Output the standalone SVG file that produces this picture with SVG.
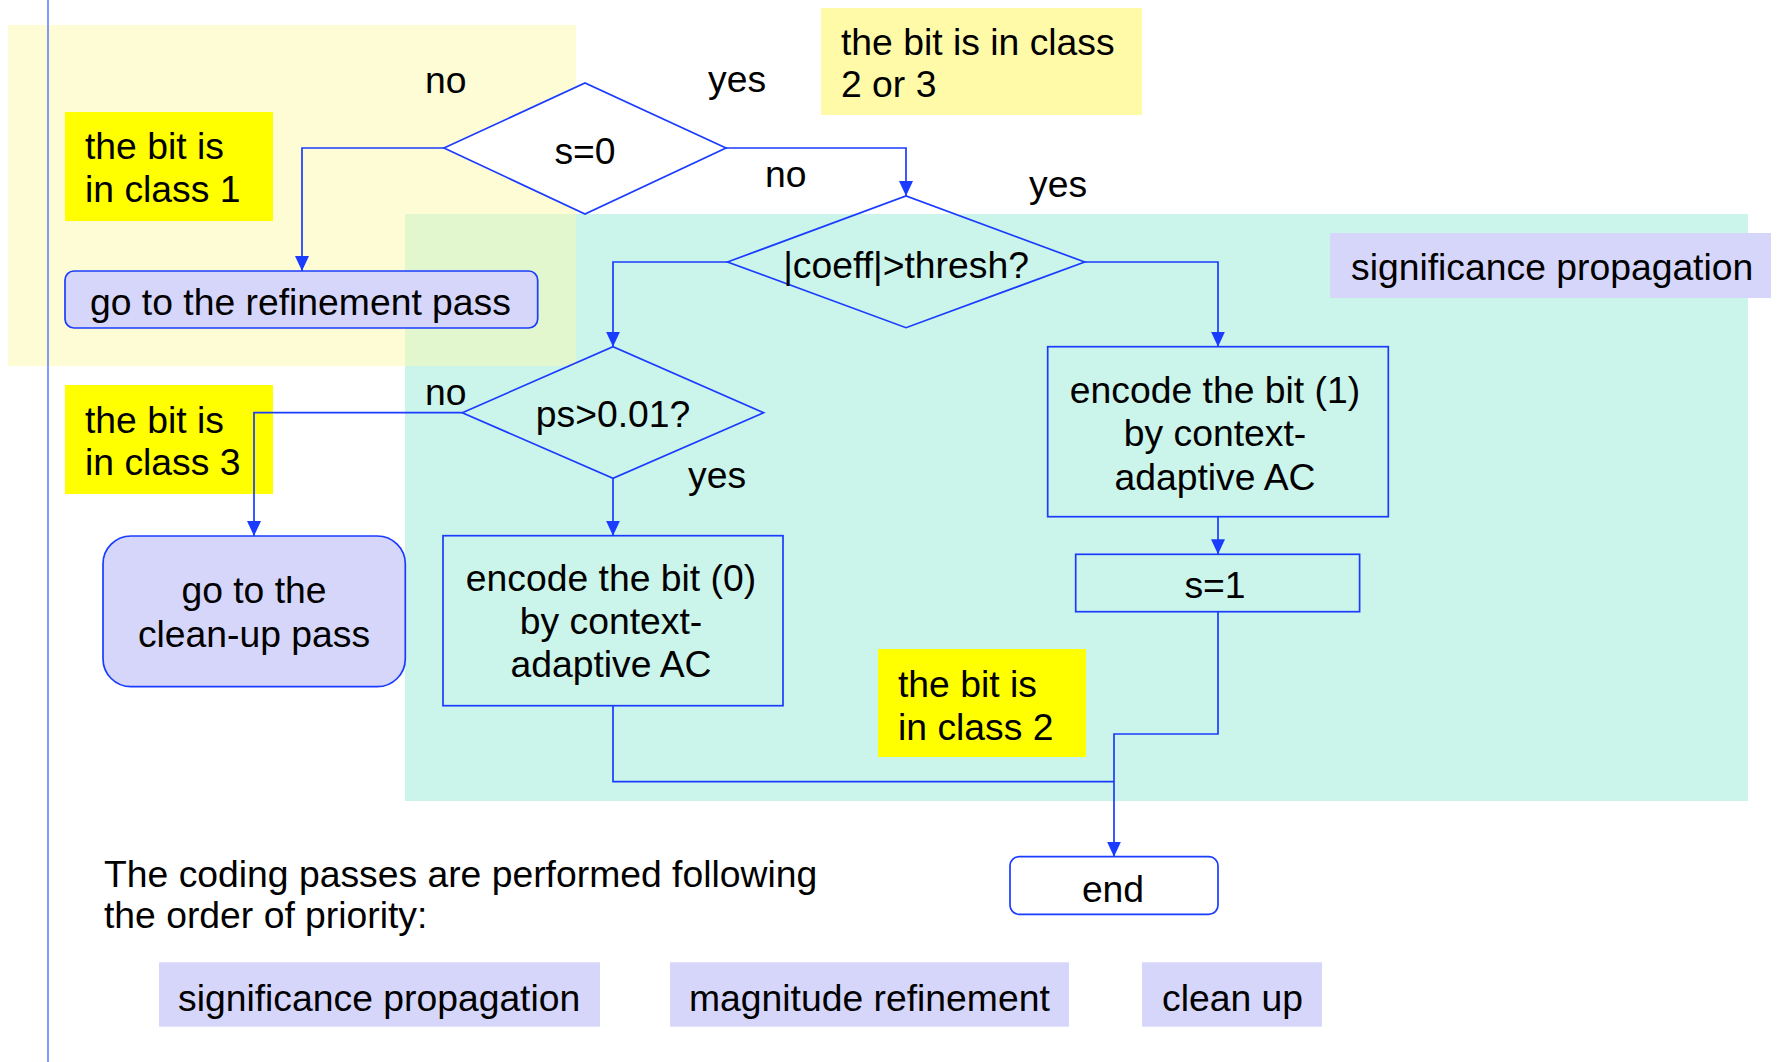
<svg xmlns="http://www.w3.org/2000/svg" width="1778" height="1062" viewBox="0 0 1778 1062">
<style>
text{font-family:"Liberation Sans",Arial,sans-serif;font-size:37.3px;fill:#000}
.c{text-anchor:middle}
.ln{fill:none;stroke:#1a3cff;stroke-width:1.7}
.nd{stroke:#1a3cff;stroke-width:1.7}
.lav{fill:#d6d6fa}
.yel{fill:#ffff00}
</style>
<defs>
<marker id="ah" markerUnits="userSpaceOnUse" markerWidth="16" markerHeight="16" refX="15" refY="7.5" orient="auto" viewBox="0 0 16 16">
<path d="M0,0.5 L15,7.5 L0,14.5 z" fill="#1a3cff"/>
</marker>
</defs>
<rect width="1778" height="1062" fill="#fff"/>
<g id="backgrounds">
<rect x="8" y="25" width="568" height="341" fill="#fefcd4"/>
<rect x="405" y="214" width="1343" height="587" fill="#cbf4ea"/>
<rect x="405" y="214" width="171" height="152" fill="#e3f7cf"/>
<line x1="48" y1="0" x2="48" y2="1062" stroke="#3355ff" stroke-width="1.2"/>
</g>
<g id="annotations">
<g id="note-class23"><rect x="821" y="8" width="321" height="107" fill="#fffaa8"/><text x="841" y="55">the bit is in class</text><text x="841" y="97">2 or 3</text></g>
<g id="note-class1"><rect class="yel" x="65" y="112" width="208" height="109"/><text x="85" y="159">the bit is</text><text x="85" y="202">in class 1</text></g>
<g id="note-class3"><rect class="yel" x="65" y="385" width="208" height="109"/><text x="85" y="433">the bit is</text><text x="85" y="475">in class 3</text></g>
<g id="note-class2"><rect class="yel" x="878" y="649" width="208" height="108"/><text x="898" y="697">the bit is</text><text x="898" y="740">in class 2</text></g>
<g id="label-sigprop"><rect class="lav" x="1330" y="233" width="441" height="65"/><text x="1351" y="280">significance propagation</text></g>
</g>
<g id="n-s0"><polygon class="nd" points="444,148 585,83 726,148 585,214" fill="#fff"/><text class="c" x="585" y="164">s=0</text></g>
<g id="n-coeff"><polygon class="nd" points="727.5,262 906,196 1084.7,262 906,327.7" fill="none"/><text class="c" x="906" y="278">|coeff|&gt;thresh?</text></g>
<g id="n-ps"><polygon class="nd" points="462.3,412.7 613,346.7 763.6,412.7 613,478.3" fill="none"/><text class="c" x="613" y="427">ps&gt;0.01?</text></g>
<g id="n-refine"><rect class="nd lav" x="65" y="271" width="472.7" height="57" rx="9"/><text x="90" y="315">go to the refinement pass</text></g>
<g id="n-cleanup"><rect class="nd lav" x="103" y="536" width="302.3" height="150.7" rx="28"/><text class="c" x="254" y="603">go to the</text><text class="c" x="254" y="647">clean-up pass</text></g>
<g id="n-enc0"><rect class="nd" x="443" y="535.7" width="340" height="170" fill="none"/><text class="c" x="611" y="591">encode the bit (0)</text><text class="c" x="611" y="633.5">by context-</text><text class="c" x="611" y="677">adaptive AC</text></g>
<g id="n-enc1"><rect class="nd" x="1047.7" y="346.7" width="340.6" height="170" fill="none"/><text class="c" x="1215" y="403">encode the bit (1)</text><text class="c" x="1215" y="446">by context-</text><text class="c" x="1215" y="490">adaptive AC</text></g>
<g id="n-s1"><rect class="nd" x="1075.7" y="554.3" width="283.9" height="57.4" fill="none"/><text class="c" x="1215" y="598">s=1</text></g>
<g id="n-end"><rect class="nd" x="1010" y="856.7" width="208" height="57.6" rx="9" fill="#fff"/><text class="c" x="1113" y="901.5">end</text></g>
<g id="connectors">
<path class="ln" d="M444,148 H302 V271" marker-end="url(#ah)"/>
<path class="ln" d="M726,148 H906 V196" marker-end="url(#ah)"/>
<path class="ln" d="M727.5,262 H613 V346.7" marker-end="url(#ah)"/>
<path class="ln" d="M1084.7,262 H1218 V346.7" marker-end="url(#ah)"/>
<path class="ln" d="M462.3,412.7 H254 V536" marker-end="url(#ah)"/>
<path class="ln" d="M613,478.3 V535.7" marker-end="url(#ah)"/>
<path class="ln" d="M1218,516.7 V554.3" marker-end="url(#ah)"/>
<path class="ln" d="M1218,611.7 V734 H1114 V856.7" marker-end="url(#ah)"/>
<path class="ln" d="M613,705.7 V781.7 H1114"/>
</g>
<g id="edge-labels">
<text x="425" y="93">no</text>
<text x="708" y="92">yes</text>
<text x="765" y="187">no</text>
<text x="1029" y="197">yes</text>
<text x="425" y="405">no</text>
<text x="688" y="488">yes</text>
</g>
<g id="footer">
<text x="104" y="886.5">The coding passes are performed following</text>
<text x="104" y="927.5">the order of priority:</text>
<g id="pass-sig"><rect class="lav" x="159" y="962.3" width="441" height="64.4"/><text x="178" y="1010.5">significance propagation</text></g>
<g id="pass-mag"><rect class="lav" x="670" y="962.3" width="399" height="64.4"/><text x="689" y="1010.5">magnitude refinement</text></g>
<g id="pass-clean"><rect class="lav" x="1142" y="962.3" width="180" height="64.4"/><text x="1162" y="1010.5">clean up</text></g>
</g>
</svg>
